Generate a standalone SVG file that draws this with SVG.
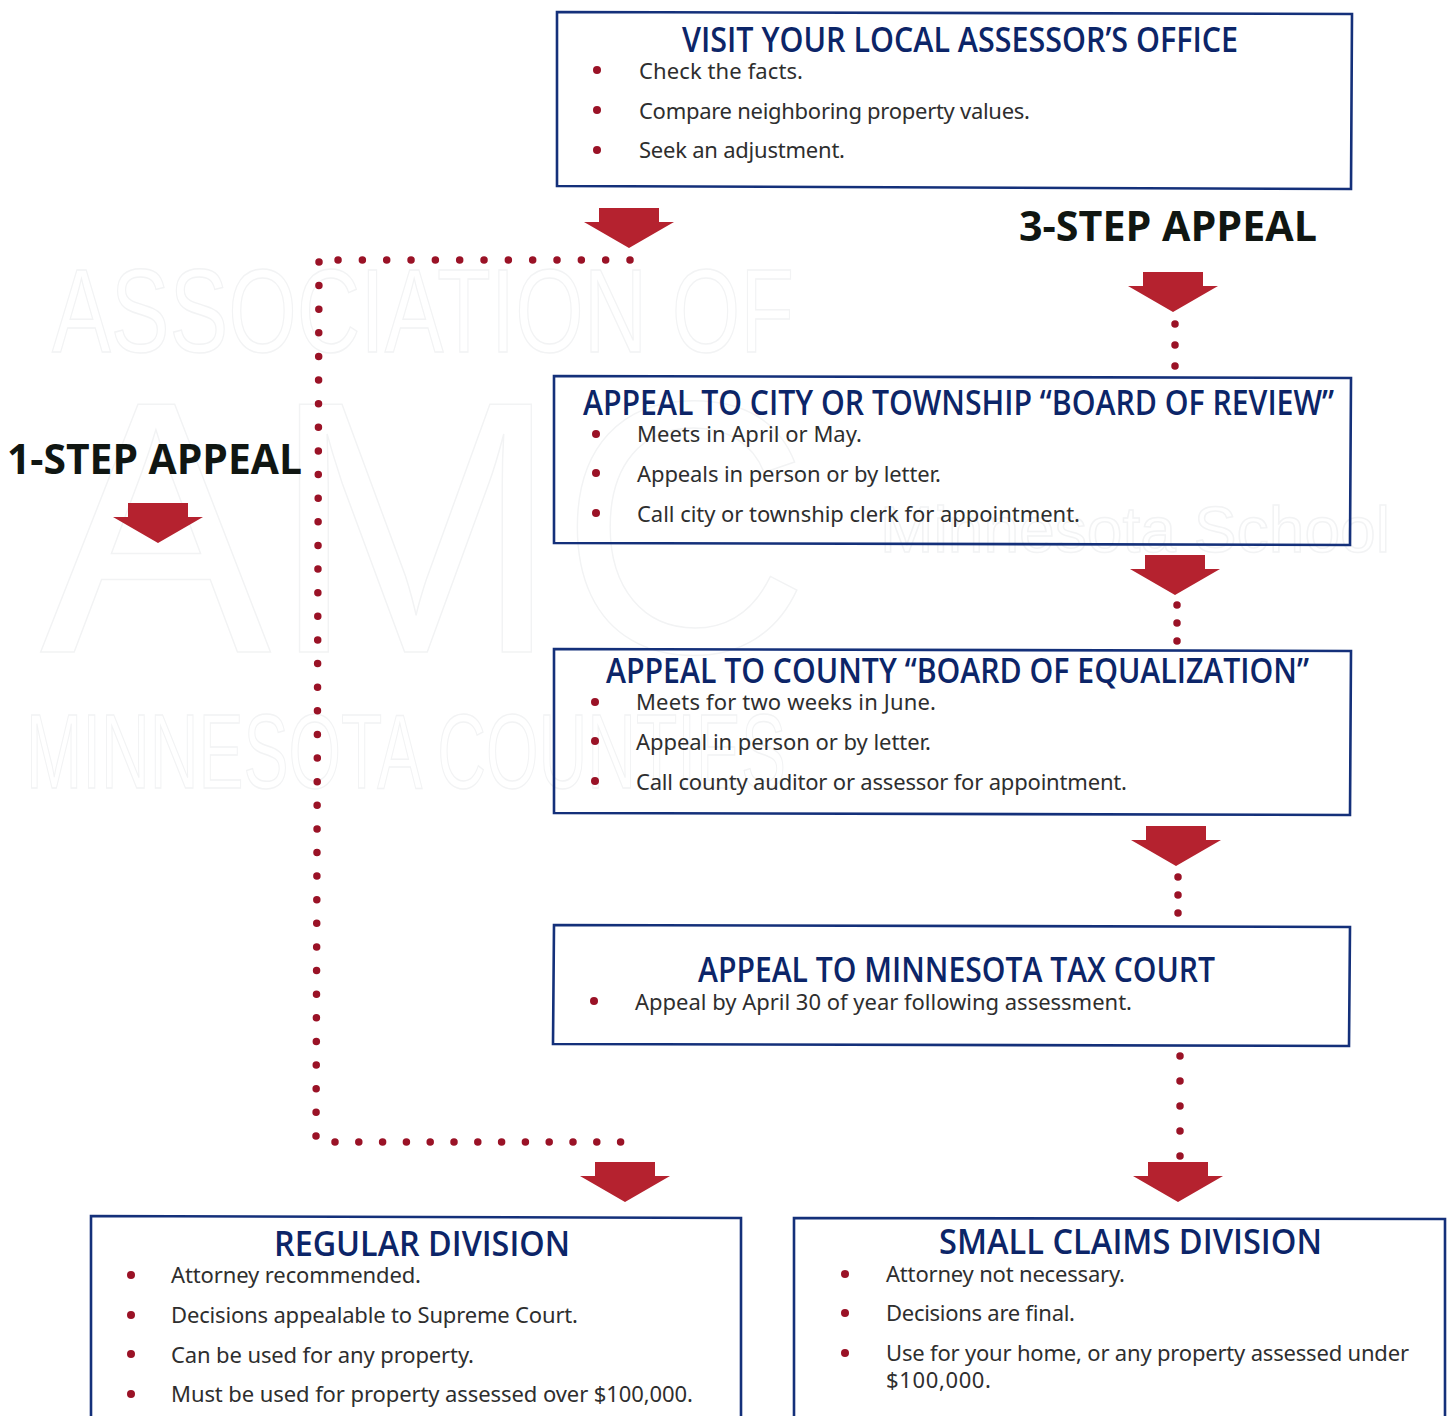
<svg xmlns="http://www.w3.org/2000/svg" width="1450" height="1416" viewBox="0 0 1450 1416">
<style>
.box{fill:none;stroke:#14307a;stroke-width:2.6}
.t{font-family:"Open Sans","Noto Sans",sans-serif;font-weight:600;font-size:35px;fill:#0c2568}
.b{font-family:"Noto Sans","Open Sans",sans-serif;font-size:22px;fill:#2e2e2e}
.s{font-family:"Open Sans","Noto Sans",sans-serif;font-weight:700;font-size:41px;fill:#101612}
.wm{font-family:"Liberation Sans",sans-serif;fill:none;stroke:#f2f3f4;stroke-width:1.5}
.dot{fill:#9a1226}
.dots{fill:none;stroke:#9a1226;stroke-width:7.5;stroke-linecap:round}
.arr{fill:#b5222f}
</style>
<defs>
<path id="arrow" d="M-30 0H30V14H45L0 40L-45 14H-30Z"/>
</defs>
<rect width="1450" height="1416" fill="#fff"/>
<g id="watermark">
<text class="wm" x="52" y="352" font-size="118" textLength="742" lengthAdjust="spacingAndGlyphs">ASSOCIATION OF</text>
<text class="wm" x="40" y="652" font-size="360" textLength="770" lengthAdjust="spacingAndGlyphs">AMC</text>
<text class="wm" x="26" y="788" font-size="106" textLength="760" lengthAdjust="spacingAndGlyphs">MINNESOTA COUNTIES</text>
<text class="wm" x="880" y="552" font-size="64" textLength="510" lengthAdjust="spacingAndGlyphs">Minnesota School</text>
</g>
<g id="connectors">
<path class="dots" d="M630 260H337" stroke-dasharray="0 24.33"/>
<path class="dots" d="M319 262L316 1137" stroke-dasharray="0 23.62"/>
<path class="dots" d="M335 1142H622" stroke-dasharray="0 23.8"/>
<path class="dots" d="M1175 324V367" stroke-dasharray="0 21"/>
<path class="dots" d="M1177 605V642" stroke-dasharray="0 18"/>
<path class="dots" d="M1178 877V914" stroke-dasharray="0 18"/>
<path class="dots" d="M1180 1056V1157" stroke-dasharray="0 25"/>
<use href="#arrow" class="arr" x="629" y="208"/>
<use href="#arrow" class="arr" x="1173" y="272"/>
<use href="#arrow" class="arr" x="158" y="503"/>
<use href="#arrow" class="arr" x="1175" y="555"/>
<use href="#arrow" class="arr" x="1176" y="826"/>
<use href="#arrow" class="arr" x="625" y="1162"/>
<use href="#arrow" class="arr" x="1178" y="1162"/>
</g>
<g id="label-3step"><text class="s" x="1019" y="241" textLength="298" lengthAdjust="spacingAndGlyphs">3-STEP APPEAL</text></g>
<g id="label-1step"><text class="s" x="7" y="474" textLength="295" lengthAdjust="spacingAndGlyphs">1-STEP APPEAL</text></g>
<g id="node-visit">
<path class="box" d="M557 12L1352 14L1351 189L557 186Z"/>
<text class="t" x="682" y="52" textLength="556" lengthAdjust="spacingAndGlyphs">VISIT YOUR LOCAL ASSESSOR’S OFFICE</text>
<circle class="dot" cx="597" cy="70" r="4"/><text class="b" x="639" y="79" textLength="164" lengthAdjust="spacing">Check the facts.</text>
<circle class="dot" cx="597" cy="110" r="4"/><text class="b" x="639" y="119" textLength="391" lengthAdjust="spacing">Compare neighboring property values.</text>
<circle class="dot" cx="597" cy="150" r="4"/><text class="b" x="639" y="158" textLength="206" lengthAdjust="spacing">Seek an adjustment.</text>
</g>
<g id="node-review">
<path class="box" d="M554 376L1351 378L1350 545L554 543Z"/>
<text class="t" x="583" y="415" textLength="751" lengthAdjust="spacingAndGlyphs">APPEAL TO CITY OR TOWNSHIP “BOARD OF REVIEW”</text>
<circle class="dot" cx="596" cy="434" r="4"/><text class="b" x="637" y="442" textLength="225" lengthAdjust="spacing">Meets in April or May.</text>
<circle class="dot" cx="596" cy="473" r="4"/><text class="b" x="637" y="482" textLength="304" lengthAdjust="spacing">Appeals in person or by letter.</text>
<circle class="dot" cx="596" cy="513" r="4"/><text class="b" x="637" y="522" textLength="443" lengthAdjust="spacing">Call city or township clerk for appointment.</text>
</g>
<g id="node-equalization">
<path class="box" d="M554 649L1351 651L1350 815L554 813Z"/>
<text class="t" x="606" y="683" textLength="703" lengthAdjust="spacingAndGlyphs">APPEAL TO COUNTY “BOARD OF EQUALIZATION”</text>
<circle class="dot" cx="595" cy="702" r="4"/><text class="b" x="636" y="710" textLength="300" lengthAdjust="spacing">Meets for two weeks in June.</text>
<circle class="dot" cx="595" cy="741" r="4"/><text class="b" x="636" y="750" textLength="295" lengthAdjust="spacing">Appeal in person or by letter.</text>
<circle class="dot" cx="595" cy="781" r="4"/><text class="b" x="636" y="790" textLength="491" lengthAdjust="spacing">Call county auditor or assessor for appointment.</text>
</g>
<g id="node-taxcourt">
<path class="box" d="M554 925L1350 927L1349 1046L553 1044Z"/>
<text class="t" x="698" y="982" textLength="517" lengthAdjust="spacingAndGlyphs">APPEAL TO MINNESOTA TAX COURT</text>
<circle class="dot" cx="594" cy="1001" r="4"/><text class="b" x="635" y="1010" textLength="497" lengthAdjust="spacing">Appeal by April 30 of year following assessment.</text>
</g>
<g id="node-regular">
<path class="box" d="M91 1416V1216L741 1218L741 1416"/>
<text class="t" x="274" y="1256" textLength="296" lengthAdjust="spacingAndGlyphs">REGULAR DIVISION</text>
<circle class="dot" cx="131" cy="1275" r="4"/><text class="b" x="171" y="1283" textLength="250" lengthAdjust="spacing">Attorney recommended.</text>
<circle class="dot" cx="131" cy="1315" r="4"/><text class="b" x="171" y="1323" textLength="407" lengthAdjust="spacing">Decisions appealable to Supreme Court.</text>
<circle class="dot" cx="131" cy="1354" r="4"/><text class="b" x="171" y="1363" textLength="303" lengthAdjust="spacing">Can be used for any property.</text>
<circle class="dot" cx="131" cy="1394" r="4"/><text class="b" x="171" y="1402" textLength="522" lengthAdjust="spacing">Must be used for property assessed over $100,000.</text>
</g>
<g id="node-small">
<path class="box" d="M794 1416V1218L1445 1219L1445 1416"/>
<text class="t" x="939" y="1254" textLength="383" lengthAdjust="spacingAndGlyphs">SMALL CLAIMS DIVISION</text>
<circle class="dot" cx="845" cy="1274" r="4"/><text class="b" x="886" y="1282" textLength="239" lengthAdjust="spacing">Attorney not necessary.</text>
<circle class="dot" cx="845" cy="1313" r="4"/><text class="b" x="886" y="1321" textLength="189" lengthAdjust="spacing">Decisions are final.</text>
<circle class="dot" cx="845" cy="1353" r="4"/><text class="b" x="886" y="1361" textLength="523" lengthAdjust="spacing">Use for your home, or any property assessed under</text>
<text class="b" x="886" y="1388" textLength="105" lengthAdjust="spacing">$100,000.</text>
</g>
</svg>
